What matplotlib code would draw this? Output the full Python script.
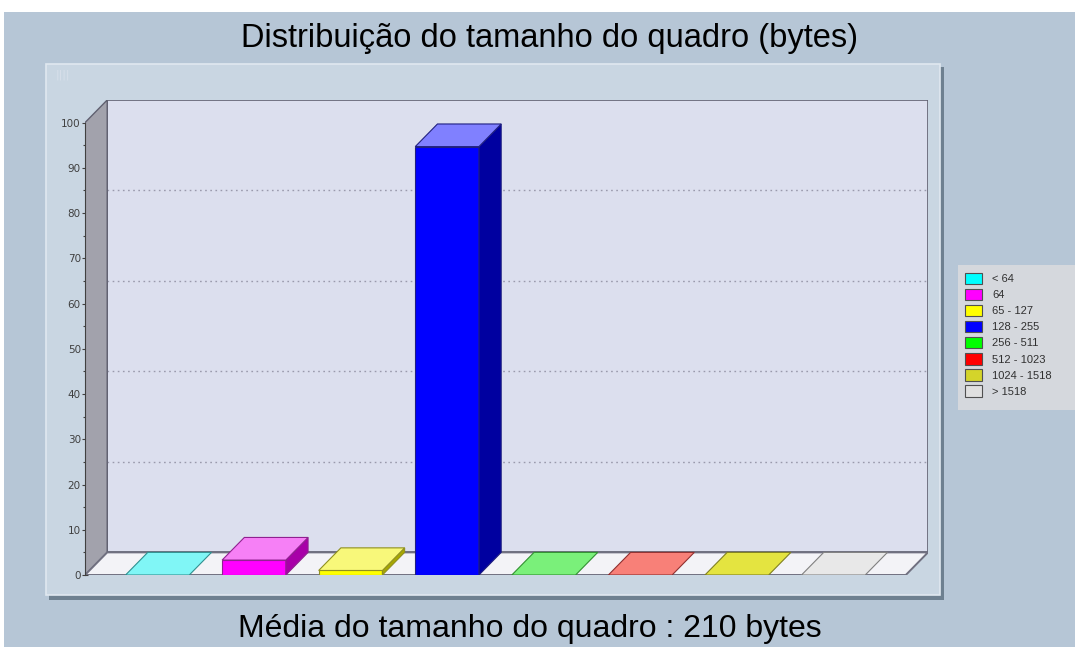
import matplotlib.pyplot as plt
from matplotlib.patches import Polygon, Rectangle, Patch

# frame size distribution (percent of frames)
categories = ['< 64', '64', '65 - 127', '128 - 255', '256 - 511',
              '512 - 1023', '1024 - 1518', '> 1518']
values = [0, 3.3, 1.0, 94.7, 0, 0, 0, 0]

front_colors = ['#00ffff', '#ff00ff', '#ffff00', '#0000ff',
                '#00ff00', '#ff0000', '#d4d42a', '#e0e0e0']
top_colors = ['#80f6f6', '#f680f6', '#f8f87a', '#8080ff',
              '#7af07a', '#f88078', '#e4e440', '#e8e8e8']
side_colors = ['#00a8a8', '#a800a8', '#a8a800', '#0000a0',
               '#00a000', '#a00000', '#909010', '#a0a0a0']
edge_colors = ['#309090', '#902090', '#909020', '#202080',
               '#309030', '#903030', '#808020', '#808080']

W, H = 1075, 647
fig = plt.figure(figsize=(W / 100, H / 100), dpi=100)
fig.patch.set_facecolor('white')

def px(x, y, w, h):
    # pixel box (top-left origin) -> figure fraction rect
    return (x / W, 1 - (y + h) / H, w / W, h / H)

def fig_rect(x, y, w, h, **kw):
    r = px(x, y, w, h)
    fig.patches.append(Rectangle((r[0], r[1]), r[2], r[3], transform=fig.transFigure, **kw))

# page background, inner panel with shadow, legend box
fig_rect(4, 12, W, H, facecolor='#b6c6d6', edgecolor='none', zorder=-3)
fig_rect(49, 67, 895, 533, facecolor='#6e8090', edgecolor='none', zorder=-2)
fig_rect(46, 64, 894, 531, facecolor='#c9d6e2', edgecolor='#e0e8f0', lw=1.2, zorder=-1)
fig_rect(958, 265, 117, 145, facecolor='#d5d8dd', edgecolor='none', zorder=-1)
fig.text(56 / W, 1 - 75 / H, '||||', fontsize=8, color='#d8e0ea', va='center')

fig.text(0.511, 1 - 39 / H, 'Distribuição do tamanho do quadro (bytes)',
         ha='center', va='center', fontsize=23.5, family='Liberation Sans', color='#000000')
fig.text(0.493, 1 - 629 / H, 'Média do tamanho do quadro : 210 bytes',
         ha='center', va='center', fontsize=23, family='Liberation Sans', color='#000000')

DX, DY = 0.23, 5.0
n = len(categories)
ax = fig.add_axes(px(85, 100, 843, 475))
ax.set_zorder(1)
ax.set_xlim(-0.75, n - 0.25 + DX)
ax.set_ylim(0, 100 + DY)
ax.patch.set_visible(False)
for s in ['top', 'right', 'bottom']:
    ax.spines[s].set_visible(False)
ax.spines['left'].set_bounds(0, 100)
ax.spines['left'].set_color('#404040')
ax.spines['left'].set_zorder(5)

x_left, x_right = -0.75, n - 0.25

# back wall
ax.add_patch(Rectangle((x_left + DX, DY), x_right - x_left, 100, facecolor='#dcdfee',
                       edgecolor='#606070', lw=1.2, zorder=1))
# left wall
ax.add_patch(Polygon([(x_left, 0), (x_left + DX, DY), (x_left + DX, 100 + DY), (x_left, 100)],
                     closed=True, facecolor='#a2a2ac', edgecolor='#606070', lw=1.0, zorder=2))
# floor
ax.add_patch(Polygon([(x_left, 0), (x_right, 0), (x_right + DX, DY), (x_left + DX, DY)],
                     closed=True, facecolor='#f3f3f7', edgecolor='#707080', lw=1.4, zorder=2))
# grid lines on back wall
for g in [20, 40, 60, 80]:
    ax.plot([x_left + DX, x_right + DX], [g + DY, g + DY], ls=(0, (1.2, 2.5)),
            color='#9a9aac', lw=1.0, zorder=1.5)

bw = 0.66
for i, v in enumerate(values):
    x0, x1 = i - bw / 2, i + bw / 2
    ec = edge_colors[i]
    if v > 0:
        ax.add_patch(Rectangle((x0, 0), bw, v, facecolor=front_colors[i],
                               edgecolor=ec, lw=0.8, zorder=3))
        ax.add_patch(Polygon([(x1, 0), (x1 + DX, DY), (x1 + DX, v + DY), (x1, v)],
                             closed=True, facecolor=side_colors[i], edgecolor=ec, lw=0.8, zorder=3))
    ax.add_patch(Polygon([(x0, v), (x1, v), (x1 + DX, v + DY), (x0 + DX, v + DY)],
                         closed=True, facecolor=top_colors[i], edgecolor=ec, lw=0.8, zorder=3))

ax.set_xticks([])
ax.set_yticks(range(0, 101, 10))
ax.set_yticks(range(5, 100, 10), minor=True)
ax.tick_params(axis='y', which='both', direction='inout', length=4, width=0.8,
               colors='#404040', labelsize=7.5, pad=1)
ax.tick_params(axis='y', which='minor', length=3)

handles = [Patch(facecolor=c, edgecolor='#505050', lw=0.8) for c in front_colors]
fig.legend(handles, categories, loc='upper left', bbox_to_anchor=(954 / W, 1 - 262 / H),
           frameon=False, handlelength=1.6, handleheight=1.2, handletextpad=0.9,
           labelspacing=0.42, borderpad=0.45, labelcolor='#303030',
           prop={'family': 'Liberation Sans', 'size': 8})

fig.savefig('out.png', dpi=100)
